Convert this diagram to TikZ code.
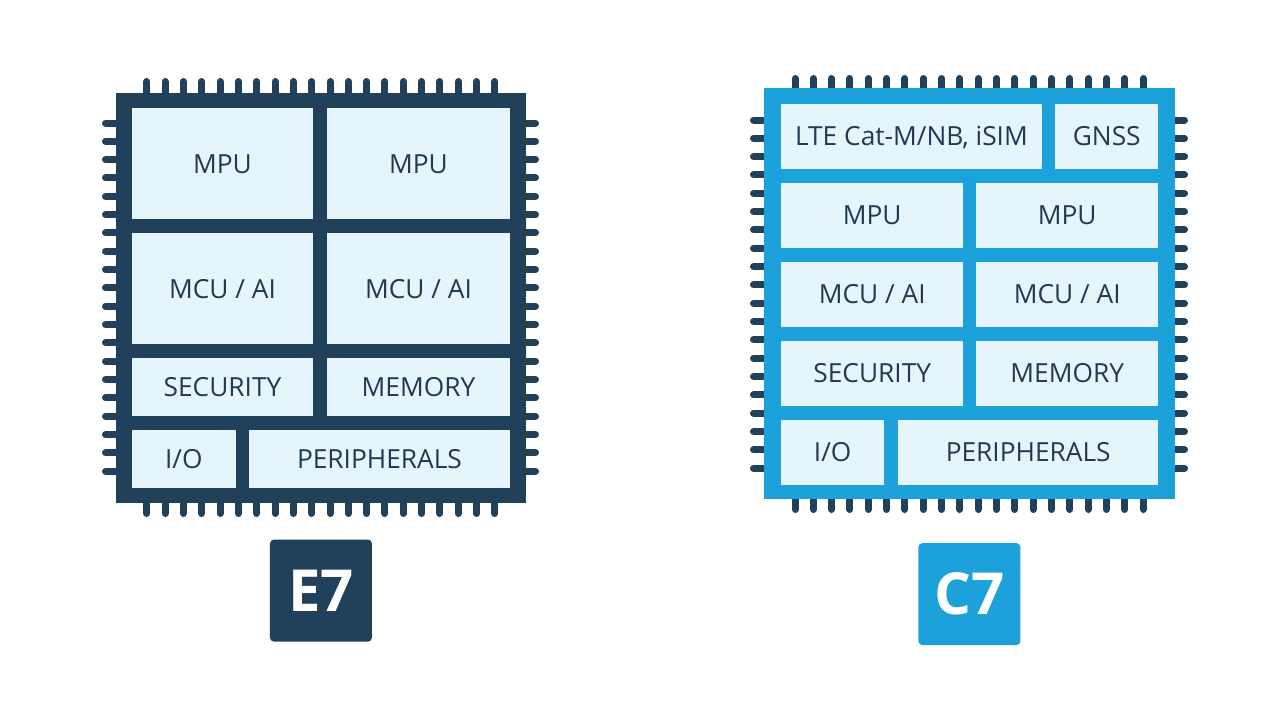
\documentclass[tikz,border=0pt]{standalone}
\usepackage{fontspec}
\setmainfont{Open Sans}
\usepackage{xcolor}
\usepackage{tikz}
\usetikzlibrary{positioning}

\definecolor{navy}{HTML}{21405A}
\definecolor{sky}{HTML}{1CA1DB}
\definecolor{cellfill}{HTML}{E5F5FB}
\definecolor{celltext}{HTML}{1F3A52}

\begin{document}
\begin{tikzpicture}[
        x=1pt, y=-1pt,
        font=\fontsize{26.3}{30}\selectfont,
        chip/.style={minimum size=410.5, inner sep=0, anchor=north west},
        cell/.style={fill=cellfill, text=celltext, inner sep=0, text depth=0pt, anchor=north west},
        pin/.style={navy, line width=7pt, line cap=round},
        tag/.style={minimum size=102, inner sep=0, rounded corners=4pt, text=white, font=\fontsize{58}{60}\selectfont\bfseries}
    ]
        \useasboundingbox (0,0) rectangle (1280,720);

        \foreach \i in {0,...,19} {
            \draw[pin] (146.7+18.33*\i,95) -- (146.7+18.33*\i,81.5);
            \draw[pin] (146.7+18.33*\i,500) -- (146.7+18.33*\i,513.5);
            \draw[pin] (118,123+18.33*\i) -- (105.5,123+18.33*\i);
            \draw[pin] (523,123+18.33*\i) -- (535.5,123+18.33*\i);
            \draw[pin] (795+18.33*\i,91) -- (795+18.33*\i,78.5);
            \draw[pin] (795+18.33*\i,496) -- (795+18.33*\i,509.5);
            \draw[pin] (767,120+18.33*\i) -- (753.5,120+18.33*\i);
            \draw[pin] (1172,120+18.33*\i) -- (1184.5,120+18.33*\i);
        }

        \node[chip, fill=navy] (e7chip) at (115.5,92.5) {};
        \node[cell, minimum width=181.5, minimum height=111] (e7mpua) at (131.5,108) {MPU};
        \node[cell, minimum width=182.5, minimum height=111] (e7mpub) at (327,108) {MPU};
        \node[cell, minimum width=181.5, minimum height=111] (e7mcua) at (131.5,233) {MCU / AI};
        \node[cell, minimum width=182.5, minimum height=111] (e7mcub) at (327,233) {MCU / AI};
        \node[cell, minimum width=181.5, minimum height=57.5] (e7sec) at (131.5,358) {SECURITY};
        \node[cell, minimum width=182.5, minimum height=57.5] (e7mem) at (327,358) {MEMORY};
        \node[cell, minimum width=104.2, minimum height=58.5] (e7io) at (131.5,429.5) {I/O};
        \node[cell, minimum width=260.5, minimum height=58.5] (e7per) at (249,429.5) {PERIPHERALS};
        \node[tag, fill=navy, below=36pt of e7chip] (e7tag) {E7};

        \node[chip, fill=sky] (c7chip) at (764,88) {};
        \node[cell, minimum width=260.5, minimum height=65] (c7lte) at (781,103.5) {LTE Cat-M/NB, iSIM};
        \node[cell, minimum width=103, minimum height=65] (c7gnss) at (1055,103.5) {GNSS};
        \node[cell, minimum width=182, minimum height=65] (c7mpua) at (781,182.5) {MPU};
        \node[cell, minimum width=182, minimum height=65] (c7mpub) at (976,182.5) {MPU};
        \node[cell, minimum width=182, minimum height=65] (c7mcua) at (781,261.5) {MCU / AI};
        \node[cell, minimum width=182, minimum height=65] (c7mcub) at (976,261.5) {MCU / AI};
        \node[cell, minimum width=182, minimum height=65] (c7sec) at (781,340.5) {SECURITY};
        \node[cell, minimum width=182, minimum height=65] (c7mem) at (976,340.5) {MEMORY};
        \node[cell, minimum width=103, minimum height=65] (c7io) at (781,419.5) {I/O};
        \node[cell, minimum width=260, minimum height=65] (c7per) at (898,419.5) {PERIPHERALS};
        \node[tag, fill=sky, below=44pt of c7chip] (c7tag) {C7};
    \end{tikzpicture}
\end{document}
